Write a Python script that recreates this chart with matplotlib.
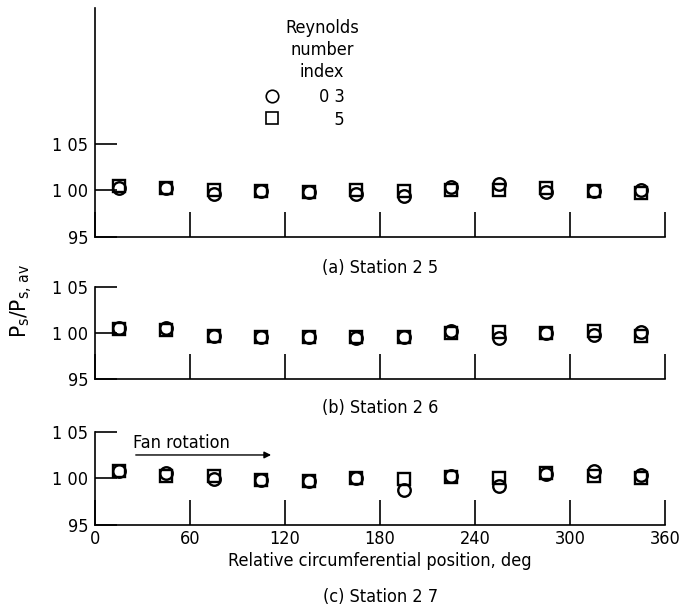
#!/usr/bin/env python3
"""
Static pressure distribution around the circumference, stations 2.5 - 2.7
"""

import matplotlib
matplotlib.use('Agg')
import matplotlib.pyplot as plt
from matplotlib.lines import Line2D

plt.rcParams['font.family'] = ['DejaVu Sans']
plt.rcParams['font.stretch'] = 'condensed'
plt.rcParams['mathtext.fontset'] = 'custom'
plt.rcParams['mathtext.rm'] = 'DejaVu Sans:stretch=condensed'

# Data
angles = [15, 45, 75, 105, 135, 165, 195, 225, 255, 285, 315, 345]

# Reynolds number index 0.3 (circles) and 0.5 (squares)
st25_re03 = [1.003, 1.003, 0.996, 0.999, 0.998, 0.996, 0.994, 1.004, 1.007, 0.998, 0.999, 1.001]
st25_re05 = [1.005, 1.003, 1.001, 0.999, 0.998, 1.001, 0.999, 1.000, 1.001, 1.003, 0.999, 0.997]

st26_re03 = [1.005, 1.005, 0.997, 0.996, 0.996, 0.994, 0.996, 1.002, 0.994, 1.000, 0.998, 1.001]
st26_re05 = [1.004, 1.003, 0.997, 0.996, 0.996, 0.996, 0.996, 1.000, 1.001, 1.000, 1.002, 0.997]

st27_re03 = [1.008, 1.006, 0.999, 0.998, 0.997, 1.000, 0.987, 1.003, 0.992, 1.005, 1.008, 1.004]
st27_re05 = [1.008, 1.003, 1.003, 0.998, 0.997, 1.000, 0.999, 1.001, 1.000, 1.006, 1.003, 1.000]

x_ticks = [0, 60, 120, 180, 240, 300, 360]
y_ticks = [0.95, 1.00, 1.05]
y_ticklabels = ['95', '1 00', '1 05']

panels = [
    {'circ': st25_re03, 'sq': st25_re05, 'rect': [0.1397, 0.614, 0.838, 0.373], 'top': 1.196,
     'caption': '(a) Station 2 5', 'cap_y': 0.563},
    {'circ': st26_re03, 'sq': st26_re05, 'rect': [0.1397, 0.3827, 0.838, 0.150], 'top': 1.05,
     'caption': '(b) Station 2 6', 'cap_y': 0.335},
    {'circ': st27_re03, 'sq': st27_re05, 'rect': [0.1397, 0.145, 0.838, 0.152], 'top': 1.05,
     'caption': '(c) Station 2 7', 'cap_y': 0.027},
]

fig = plt.figure(figsize=(6.8, 6.14), dpi=100)
fig.patch.set_facecolor('white')

axes = []
for i, p in enumerate(panels):
    ax = fig.add_axes(p['rect'])
    ax.plot(angles, p['sq'], linestyle='none', marker='s', markersize=8.5,
            markerfacecolor='none', markeredgecolor='black', markeredgewidth=1.7)
    ax.plot(angles, p['circ'], linestyle='none', marker='o', markersize=9,
            markerfacecolor='none', markeredgecolor='black', markeredgewidth=1.7)

    ax.set_xlim(0, 360)
    ax.set_ylim(0.95, p['top'])
    ax.spines['top'].set_visible(False)
    ax.spines['right'].set_visible(False)
    for s in ('left', 'bottom'):
        ax.spines[s].set_linewidth(1.2)

    ax.set_xticks(x_ticks)
    ax.tick_params(axis='x', direction='in', length=18, width=1.2)
    if i < 2:
        ax.set_xticklabels([])
    else:
        ax.set_xticklabels([str(t) for t in x_ticks], fontsize=13)

    ax.set_yticks(y_ticks)
    ax.set_yticklabels(y_ticklabels, fontsize=13)
    ax.tick_params(axis='y', direction='in', length=16, width=1.2, pad=5)

    fig.text(0.559, p['cap_y'], p['caption'], ha='center', va='center', fontsize=13)
    axes.append(ax)

# Legend in the top panel
axes[0].text(0.398, 0.952, 'Reynolds\nnumber\nindex', transform=axes[0].transAxes,
             ha='center', va='top', fontsize=13, linespacing=1.3)
handles = [
    Line2D([], [], linestyle='none', marker='o', markersize=9, markerfacecolor='none',
           markeredgecolor='black', markeredgewidth=1.2),
    Line2D([], [], linestyle='none', marker='s', markersize=8.5, markerfacecolor='none',
           markeredgecolor='black', markeredgewidth=1.2),
]
axes[0].legend(handles, ['0 3', '   5'], loc='center left', bbox_to_anchor=(0.266, 0.561),
               frameon=False, fontsize=13, handlelength=1.0, handletextpad=2.1,
               labelspacing=0.25)

# Fan rotation arrow
axes[2].annotate('', xy=(113, 1.025), xytext=(24, 1.025),
                 arrowprops=dict(arrowstyle='-|>', color='black', lw=1.0, mutation_scale=10))
axes[2].text(24, 1.028, 'Fan rotation', fontsize=13, ha='left', va='bottom')

axes[2].set_xlabel('Relative circumferential position, deg', fontsize=13, labelpad=3)

fig.text(0.032, 0.51, r'$\mathrm{P_s/P_{s,\,av}}$', rotation=90, ha='center', va='center',
         fontsize=16)

plt.savefig('out.png', dpi=100, facecolor='white')
plt.close()
